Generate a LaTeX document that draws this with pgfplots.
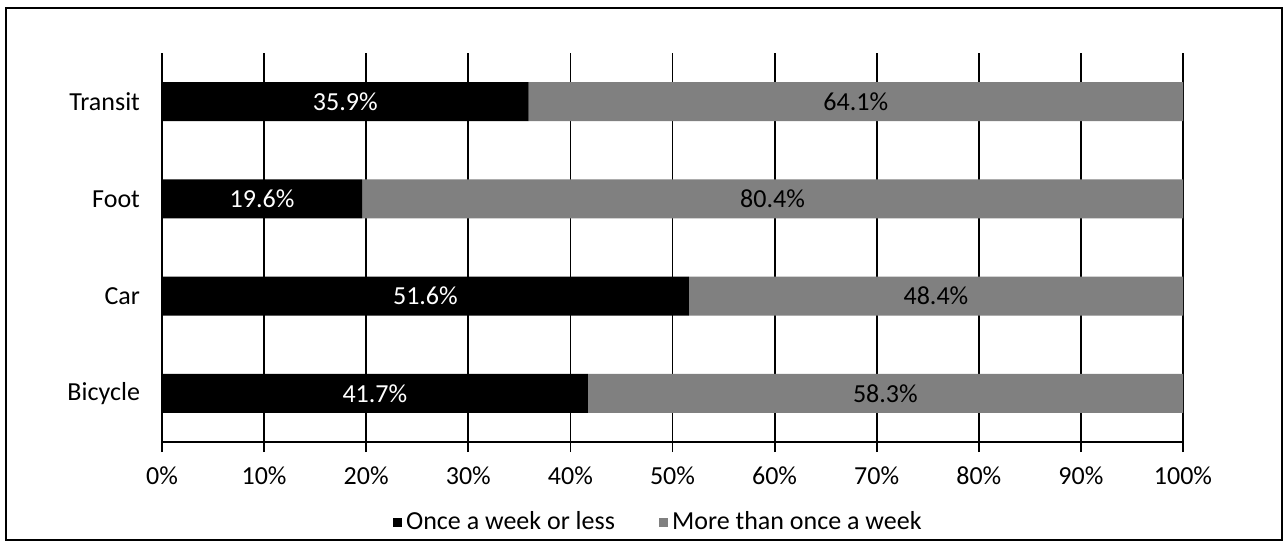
\documentclass[border=0pt]{standalone}
\usepackage{pgfplots}
\pgfplotsset{compat=1.18}
\usepackage{pgfplotstable}
\usepackage{fontspec}
\setmainfont{Carlito}
\definecolor{moregray}{gray}{0.5}

\pgfplotstableread{
y once more
0 41.7 58.3
1 51.6 48.4
2 19.6 80.4
3 35.9 64.1
}\bardata

\pgfplotstableread{
x y label
20.85 0 41.7\%
25.8 1 51.6\%
9.8 2 19.6\%
17.95 3 35.9\%
}\labonce

\pgfplotstableread{
x y label
70.85 0 58.3\%
75.8 1 48.4\%
59.8 2 80.4\%
67.95 3 64.1\%
}\labmore

\begin{document}
\fontsize{13pt}{15.6pt}\selectfont
\begin{tikzpicture}
\useasboundingbox (-81pt,-50.5pt) rectangle (562pt,221pt);
\draw[black, line width=0.9pt] (-78pt,-49pt) rectangle (560pt,217pt);
\begin{axis}[
  at={(0pt,0pt)}, anchor=south west,
  scale only axis,
  width=510.5pt, height=194.5pt,
  xbar stacked,
  bar width=19.5pt,
  xmin=0, xmax=100,
  ymin=-0.5, ymax=3.5,
  axis x line*=bottom,
  axis y line*=left,
  axis line style={black, line width=0.9pt, -},
  xtick={0,10,...,100},
  xticklabel={\pgfmathprintnumber{\tick}\%},
  xmajorgrids,
  major grid style={black, line width=0.9pt},
  ytick={0,1,2,3},
  yticklabels={Bicycle,Car,Foot,Transit},
  extra y ticks={-0.5,0.5,1.5,2.5,3.5},
  extra y tick labels={},
  extra y tick style={major tick length=5pt, tick style={black, line width=0.9pt}, grid=none},
  ytick style={draw=none},
  tick align=outside,
  xtick style={black, line width=0.9pt},
  major tick length=5pt,
  yticklabel style={xshift=-1.5pt},
  xticklabel style={yshift=-3pt},
  /pgf/number format/assume math mode=true,
  legend style={at={(0.487,-0.206)}, anchor=center, draw=none, fill=none,
    legend columns=2, font=\fontsize{13pt}{15.6pt}\selectfont,
    /tikz/every even column/.append style={column sep=20pt}},
  legend image code/.code={\draw[#1, draw=none] (0pt,-2.3pt) rectangle (4.6pt,2.3pt);},
]
\addplot[fill=black, draw=none] table[x=once, y=y] {\bardata};
\addlegendentry{Once a week or less}
\addplot[fill=moregray, draw=none] table[x=more, y=y] {\bardata};
\addlegendentry{More than once a week}
\end{axis}
\begin{axis}[
  at={(0pt,0pt)}, anchor=south west,
  scale only axis,
  width=510.5pt, height=194.5pt,
  xmin=0, xmax=100,
  ymin=-0.5, ymax=3.5,
  hide axis,
]
\addplot[only marks, mark=none, point meta=explicit symbolic,
  nodes near coords, nodes near coords align=center,
  every node near coord/.append style={text=white, font=\fontsize{13pt}{15.6pt}\selectfont}]
  table[x=x, y=y, meta=label] {\labonce};
\addplot[only marks, mark=none, point meta=explicit symbolic,
  nodes near coords, nodes near coords align=center,
  every node near coord/.append style={text=black, font=\fontsize{13pt}{15.6pt}\selectfont}]
  table[x=x, y=y, meta=label] {\labmore};
\end{axis}
\end{tikzpicture}
\end{document}
